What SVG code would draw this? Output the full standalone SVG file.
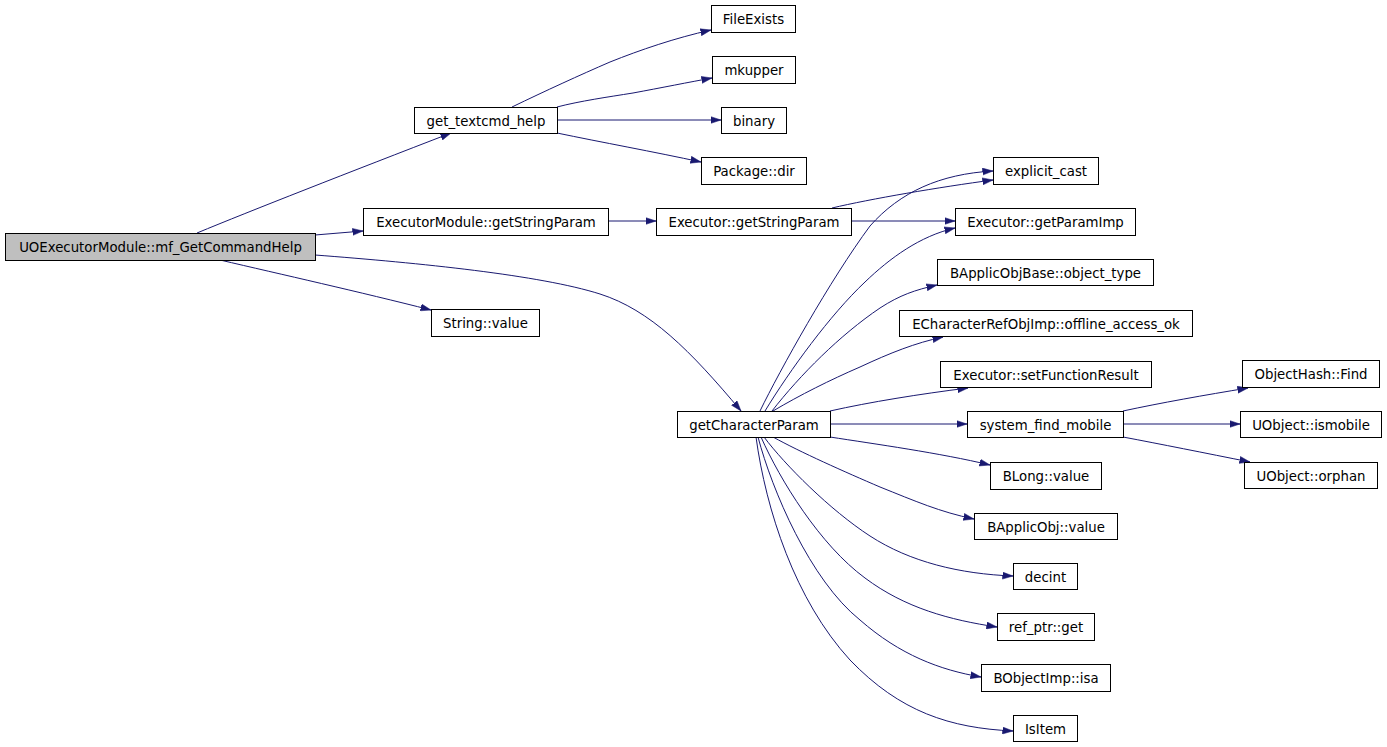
<svg xmlns="http://www.w3.org/2000/svg" width="1387" height="747" viewBox="0 0 1387 747">
<style>
.n rect{fill:#ffffff;stroke:#000000;stroke-width:1}
.root rect{fill:#bfbfbf}
.n text{font-family:"DejaVu Sans",sans-serif;font-size:13.3px;fill:#000000;text-anchor:middle}
.e path{fill:none;stroke:#191970;stroke-width:1;marker-end:url(#ah)}
</style>
<defs>
<marker id="ah" markerUnits="userSpaceOnUse" markerWidth="11" markerHeight="8" refX="10.5" refY="4" orient="auto">
<path d="M0,0.5 L10.5,4 L0,7.5 z" fill="#191970" stroke="#191970" stroke-width="0.5"/>
</marker>
</defs>
<rect width="1387" height="747" fill="#ffffff"/>
<g id="connectors" class="e">
<path d="M197,233 C250,211 350,172 451,133"/>
<path d="M315,235 L363,231"/>
<path d="M315,255 C420,263 540,275 600,294 C650,310 690,350 741,411"/>
<path d="M220,260 C280,274 360,292 431,310"/>
<path d="M512,107 C545,91 580,75 610,62 C640,50 675,38 711,30"/>
<path d="M557,107 C580,101 608,97 633,93 C660,88 690,82 712,78"/>
<path d="M557,120 L721,120"/>
<path d="M557,133 C600,142 655,152 701,162"/>
<path d="M608,221 L656,221"/>
<path d="M832,208 C870,199 940,187 993,180"/>
<path d="M851,221 L955,221"/>
<path d="M760,411 C780,370 830,280 870,226 C900,192 940,174 993,171"/>
<path d="M765,411 C790,370 830,315 865,282 C890,258 920,236 955,228"/>
<path d="M772,411 C800,375 840,335 880,308 C900,295 915,290 937,285"/>
<path d="M773,411 C800,395 830,380 860,367 C890,353 915,343 943,337"/>
<path d="M830,411 C870,402 920,394 968,388"/>
<path d="M830,424 L967,424"/>
<path d="M1123,411 C1160,403 1205,395 1248,388"/>
<path d="M1123,424 L1240,424"/>
<path d="M1123,437 C1160,444 1205,453 1250,462"/>
<path d="M830,437 C875,444 940,453 990,465"/>
<path d="M773,437 C800,452 845,472 880,487 C915,501 940,512 974,519"/>
<path d="M764,437 C785,465 830,510 870,536 C910,562 960,574 1013,576"/>
<path d="M761,437 C780,480 820,545 865,578 C905,608 950,620 997,627"/>
<path d="M758,437 C772,490 810,580 860,620 C900,655 940,670 981,677"/>
<path d="M756,437 C766,510 795,600 850,660 C900,712 950,728 1013,731"/>
</g>
<g id="node-root" class="n root"><rect x="5.5" y="233.5" width="310" height="27"/><text x="160.5" y="251.5">UOExecutorModule::mf_GetCommandHelp</text></g>
<g id="node-get_textcmd_help" class="n"><rect x="414.5" y="107.5" width="143" height="26"/><text x="486" y="125.5">get_textcmd_help</text></g>
<g id="node-FileExists" class="n"><rect x="711.5" y="5.5" width="84" height="27"/><text x="753.5" y="23.5">FileExists</text></g>
<g id="node-mkupper" class="n"><rect x="712.5" y="56.5" width="83" height="27"/><text x="754" y="74.5">mkupper</text></g>
<g id="node-binary" class="n"><rect x="721.5" y="107.5" width="65" height="26"/><text x="754" y="125.5">binary</text></g>
<g id="node-Package_dir" class="n"><rect x="701.5" y="157.5" width="105" height="27"/><text x="754" y="175.5">Package::dir</text></g>
<g id="node-ExecutorModule_getStringParam" class="n"><rect x="363.5" y="208.5" width="245" height="27"/><text x="486" y="226.5">ExecutorModule::getStringParam</text></g>
<g id="node-String_value" class="n"><rect x="431.5" y="309.5" width="108" height="27"/><text x="485.5" y="327.5">String::value</text></g>
<g id="node-Executor_getStringParam" class="n"><rect x="656.5" y="208.5" width="195" height="27"/><text x="754" y="226.5">Executor::getStringParam</text></g>
<g id="node-getCharacterParam" class="n"><rect x="677.5" y="411.5" width="153" height="26"/><text x="754" y="429.5">getCharacterParam</text></g>
<g id="node-explicit_cast" class="n"><rect x="993.5" y="157.5" width="105" height="27"/><text x="1046" y="175.5">explicit_cast</text></g>
<g id="node-Executor_getParamImp" class="n"><rect x="955.5" y="208.5" width="180" height="27"/><text x="1045.5" y="226.5">Executor::getParamImp</text></g>
<g id="node-BApplicObjBase_object_type" class="n"><rect x="937.5" y="259.5" width="216" height="26"/><text x="1045.5" y="277.5">BApplicObjBase::object_type</text></g>
<g id="node-ECharacterRefObjImp_offline_access_ok" class="n"><rect x="899.5" y="310.5" width="293" height="26"/><text x="1046" y="328.5">ECharacterRefObjImp::offline_access_ok</text></g>
<g id="node-Executor_setFunctionResult" class="n"><rect x="940.5" y="361.5" width="211" height="26"/><text x="1046" y="379.5">Executor::setFunctionResult</text></g>
<g id="node-system_find_mobile" class="n"><rect x="967.5" y="411.5" width="156" height="26"/><text x="1045.5" y="429.5">system_find_mobile</text></g>
<g id="node-BLong_value" class="n"><rect x="990.5" y="462.5" width="111" height="27"/><text x="1046" y="480.5">BLong::value</text></g>
<g id="node-BApplicObj_value" class="n"><rect x="974.5" y="513.5" width="143" height="26"/><text x="1046" y="531.5">BApplicObj::value</text></g>
<g id="node-decint" class="n"><rect x="1013.5" y="563.5" width="64" height="26"/><text x="1045.5" y="581.5">decint</text></g>
<g id="node-ref_ptr_get" class="n"><rect x="997.5" y="613.5" width="97" height="27"/><text x="1046" y="631.5">ref_ptr::get</text></g>
<g id="node-BObjectImp_isa" class="n"><rect x="981.5" y="664.5" width="129" height="27"/><text x="1046" y="682.5">BObjectImp::isa</text></g>
<g id="node-IsItem" class="n"><rect x="1013.5" y="715.5" width="64" height="26"/><text x="1045.5" y="733.5">IsItem</text></g>
<g id="node-ObjectHash_Find" class="n"><rect x="1242.5" y="360.5" width="137" height="27"/><text x="1311" y="378.5">ObjectHash::Find</text></g>
<g id="node-UObject_ismobile" class="n"><rect x="1240.5" y="411.5" width="141" height="26"/><text x="1311" y="429.5">UObject::ismobile</text></g>
<g id="node-UObject_orphan" class="n"><rect x="1244.5" y="462.5" width="133" height="26"/><text x="1311" y="480.5">UObject::orphan</text></g>
</svg>
